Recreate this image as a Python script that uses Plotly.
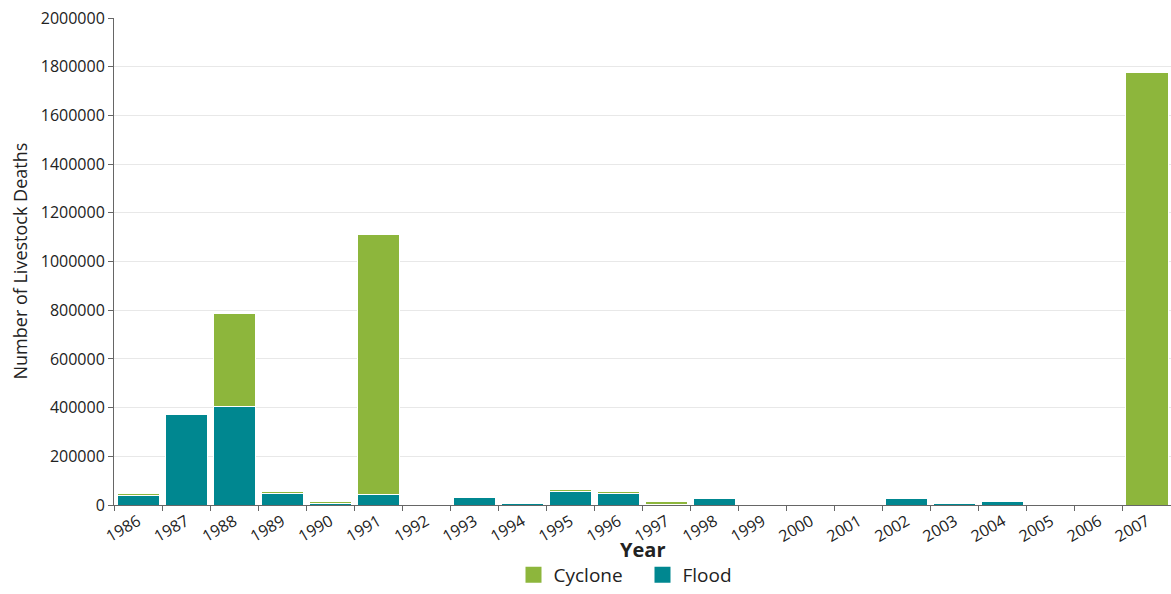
import plotly.graph_objects as go

years = [str(y) for y in range(1986, 2008)]
flood = [40000, 372000, 404000, 48000, 5000, 45000, 1500, 30000, 5000, 55000, 48000,
         2000, 26000, 4000, 3000, 1500, 26000, 8000, 15000, 1500, 1500, 0]
cyclone = [8000, 0, 384000, 6000, 9000, 1066000, 0, 0, 7000, 7000, 6000,
           13000, 0, 0, 0, 0, 0, 0, 0, 0, 0, 1778000]
y_ticks = [0, 200000, 400000, 600000, 800000, 1000000, 1200000, 1400000, 1600000, 1800000, 2000000]

GREEN = "#8db63c"
TEAL = "#008790"
FONT = "Open Sans"

W, H = 1171, 594
L, R, T, B = 114, 0, 18, 81
PW, PH = W - L - R, H - T - B

fig = go.Figure()
fig.add_trace(go.Bar(x=years, y=flood, name="Flood", marker=dict(color=TEAL, line=dict(color="white", width=1)),
                     showlegend=False))
fig.add_trace(go.Bar(x=years, y=cyclone, name="Cyclone", marker=dict(color=GREEN, line=dict(color="white", width=1)),
                     showlegend=False))
# legend entries
fig.add_trace(go.Scatter(x=[years[0]], y=[None], mode="markers", name="Cyclone",
                         marker=dict(symbol="square", size=16, color=GREEN)))
fig.add_trace(go.Scatter(x=[years[0]], y=[None], mode="markers", name="Flood",
                         marker=dict(symbol="square", size=16, color=TEAL)))

fig.update_layout(
    barmode="stack",
    bargap=0.125,
    width=W, height=H,
    margin=dict(l=L, r=R, t=T, b=B),
    plot_bgcolor="white", paper_bgcolor="white",
    font=dict(family=FONT, color="#222"),
    legend=dict(orientation="h", x=0.5, xanchor="center", y=-71 / PH, yanchor="middle",
                font=dict(size=19, family=FONT), itemsizing="trace", traceorder="normal",
                entrywidth=84),
    xaxis=dict(type="category", tickson="boundaries", ticks="outside", ticklen=5, tickcolor="#666",
               showline=True, linecolor="#666", linewidth=1, tickangle=-30, automargin=False,
               tickfont=dict(size=16, family=FONT, color="#222"), ticklabeloverflow="allow",
               showgrid=False, range=[-0.5, 21.5]),
    yaxis=dict(range=[0, 2000000], tickvals=y_ticks, ticktext=[str(v) for v in y_ticks],
               ticks="outside", ticklen=5, tickcolor="#666", showline=True, linecolor="#666",
               linewidth=1, gridcolor="#e8e8e8", zeroline=False, automargin=False,
               ticklabeloverflow="allow",
               tickfont=dict(size=16, family=FONT, color="#222")),
    annotations=[
        dict(text="<b>Year</b>", xref="paper", yref="paper", x=0.5, y=-45 / PH,
             xanchor="center", yanchor="middle", showarrow=False,
             font=dict(size=20, family=FONT, color="#222")),
        dict(text="Number of Livestock Deaths", xref="paper", yref="paper", x=(19 - L) / PW, y=0.5,
             xanchor="center", yanchor="middle", textangle=-90, showarrow=False,
             font=dict(size=18, family=FONT, color="#222")),
    ],
)

fig.write_html(
    "out.html",
    config={"displayModeBar": False},
    post_script=(
        "document.documentElement.style.overflow='hidden';"
        "document.body.style.margin='0';document.body.style.overflow='hidden';"
        "document.body.style.lineHeight='0';"
        "document.querySelectorAll('.plotly-graph-div, .svg-container, .main-svg')"
        ".forEach(function(e){e.style.overflow='hidden';});"
    ),
)
